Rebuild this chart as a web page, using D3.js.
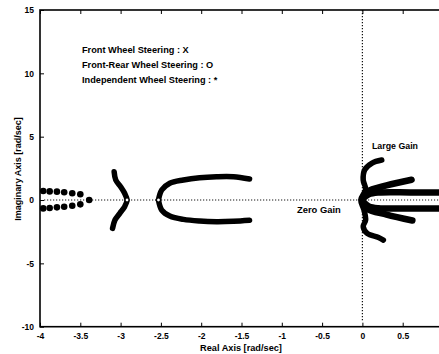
<!DOCTYPE html>
<html>
<head>
<meta charset="utf-8">
<script src="https://cdn.jsdelivr.net/npm/d3@7"></script>
<style>
  body { margin: 0; background: #fff; }
  svg { display: block; font-family: "Liberation Sans", Arial, sans-serif; }
</style>
</head>
<body>
<div id="chart"></div>
<script>
// tick values
const xTicks = [-4, -3.5, -3, -2.5, -2, -1.5, -1, -0.5, 0, 0.5];
const yTicks = [-10, -5, 0, 5, 10, 15];

// independent wheel steering (*) - dots on the left
const iwsX = [-3.96, -3.88, -3.79, -3.70, -3.60, -3.50];
const iwsUpperY = [0.71, 0.68, 0.66, 0.61, 0.53, 0.45];
const iwsLowerY = [-0.66, -0.63, -0.58, -0.53, -0.45, -0.34];
const iwsTip = [[-3.39, 0]];

// front-rear wheel steering (O) - brace shaped branch near -3
const frwsBrace = [
  [-3.08, 2.24], [-3.06, 1.58], [-3.0, 1.05], [-2.95, 0.53], [-2.92, 0],
  [-2.95, -0.53], [-3.01, -1.05], [-3.07, -1.58], [-3.1, -2.24]
];
const openCircles = [[-2.92, 0], [-2.53, 0]];

// parabola branch starting at -2.5
const parabolaUpper = [
  [-2.53, 0], [-2.49, 0.79], [-2.39, 1.32], [-2.22, 1.58], [-2.02, 1.76],
  [-1.81, 1.84], [-1.60, 1.84], [-1.40, 1.66]
];
const parabolaLower = [
  [-2.53, 0], [-2.49, -0.79], [-2.39, -1.26], [-2.22, -1.53], [-2.02, -1.66],
  [-1.81, -1.71], [-1.60, -1.68], [-1.40, -1.6]
];

// branches near the origin
const originWiggle = [
  [0.24, 3.16], [0.12, 2.92], [0.03, 2.4], [0.01, 1.58], [0.04, 0.85],
  [-0.02, 0], [0.02, -0.79], [0.04, -1.58], [0.01, -2.1], [0.06, -2.63],
  [0.2, -2.95], [0.26, -3.16]
];
const armUpperDiag = [[0.0, 0.15], [0.06, 0.65], [0.3, 1.15], [0.61, 1.6]];
const armLowerDiag = [[0.0, -0.15], [0.06, -0.7], [0.3, -1.15], [0.62, -1.62]];
const armUpperFlat = [[0.0, 0.08], [0.08, 0.45], [0.2, 0.59], [0.6, 0.6], [1.0, 0.6]];
const armLowerFlat = [[0.0, -0.08], [0.08, -0.5], [0.2, -0.65], [0.6, -0.66], [1.0, -0.66]];

const legendLines = [
  'Front Wheel Steering : X',
  'Front-Rear Wheel Steering : O',
  'Independent Wheel Steering : *'
];

const W = 439, H = 354;
const margin = { top: 10, left: 40 };
const plotW = 403, plotH = 316.7;

const x = d3.scaleLinear().domain([-4, 1]).range([margin.left, margin.left + plotW]);
const y = d3.scaleLinear().domain([-10, 15]).range([margin.top + plotH, margin.top]);

const svg = d3.select('#chart').append('svg')
  .attr('width', W)
  .attr('height', H);

// dotted reference lines
svg.append('line')
  .attr('x1', x(-3.95)).attr('x2', x(1))
  .attr('y1', y(0)).attr('y2', y(0))
  .attr('stroke', '#111').attr('stroke-width', 1.2)
  .attr('stroke-dasharray', '1.2,1.8');

svg.append('line')
  .attr('x1', x(0)).attr('x2', x(0))
  .attr('y1', y(15)).attr('y2', y(-9.5))
  .attr('stroke', '#111').attr('stroke-width', 1.2)
  .attr('stroke-dasharray', '1.2,1.8');

const line = d3.line()
  .x(d => x(d[0]))
  .y(d => y(d[1]))
  .curve(d3.curveCatmullRom);

const thin = [frwsBrace, parabolaUpper, parabolaLower, originWiggle];
const wide = [armUpperDiag, armLowerDiag, armUpperFlat, armLowerFlat];

svg.append('g')
  .selectAll('path')
  .data(thin)
  .enter()
  .append('path')
  .attr('d', line)
  .attr('fill', 'none')
  .attr('stroke', '#000')
  .attr('stroke-width', 5.5)
  .attr('stroke-linecap', 'round')
  .attr('stroke-linejoin', 'round');

svg.append('g')
  .selectAll('path')
  .data(wide)
  .enter()
  .append('path')
  .attr('d', line)
  .attr('fill', 'none')
  .attr('stroke', '#000')
  .attr('stroke-width', 6.5)
  .attr('stroke-linecap', 'round')
  .attr('stroke-linejoin', 'round');

// the real-axis dots continue between the two flat arms
svg.append('line')
  .attr('x1', x(0.12)).attr('x2', x(1))
  .attr('y1', y(0)).attr('y2', y(0))
  .attr('stroke', '#fff').attr('stroke-width', 1.2)
  .attr('stroke-dasharray', '1.5,1.5');

const dots = iwsX.map((v, i) => [v, iwsUpperY[i]])
  .concat(iwsX.map((v, i) => [v, iwsLowerY[i]]))
  .concat(iwsTip);

svg.append('g')
  .selectAll('circle')
  .data(dots)
  .enter()
  .append('circle')
  .attr('cx', d => x(d[0]))
  .attr('cy', d => y(d[1]))
  .attr('r', 3.3)
  .attr('fill', '#000');

svg.append('g')
  .selectAll('circle')
  .data(openCircles)
  .enter()
  .append('circle')
  .attr('cx', d => x(d[0]))
  .attr('cy', d => y(d[1]))
  .attr('r', 2)
  .attr('fill', '#fff')
  .attr('stroke', '#000')
  .attr('stroke-width', 1.2);

// frame and axes
svg.append('rect')
  .attr('x', margin.left).attr('y', margin.top)
  .attr('width', plotW).attr('height', plotH)
  .attr('fill', 'none')
  .attr('stroke', '#000')
  .attr('stroke-width', 1.6);

const fmt = d => String(d);

svg.append('g')
  .attr('transform', `translate(0, ${margin.top + plotH})`)
  .call(d3.axisBottom(x).tickValues(xTicks).tickFormat(fmt).tickSizeInner(-4).tickSizeOuter(0).tickPadding(6));

svg.append('g')
  .attr('transform', `translate(0, ${margin.top})`)
  .call(d3.axisTop(x).tickValues(xTicks).tickFormat('').tickSizeInner(-4).tickSizeOuter(0));

svg.append('g')
  .attr('transform', `translate(${margin.left}, 0)`)
  .call(d3.axisLeft(y).tickValues(yTicks).tickFormat(fmt).tickSizeInner(-4).tickSizeOuter(0).tickPadding(6));

svg.selectAll('.domain').remove();
svg.selectAll('.tick line').attr('stroke', '#000').attr('stroke-width', 1);
svg.selectAll('.tick text')
  .attr('font-size', '8.5px')
  .attr('font-weight', 'bold')
  .attr('fill', '#000')
  .attr('font-family', '"Liberation Sans", Arial, sans-serif');

// axis labels
svg.append('text')
  .attr('x', 241).attr('y', 351)
  .attr('text-anchor', 'middle')
  .attr('font-size', '9.2px')
  .attr('font-weight', 'bold')
  .text('Real Axis [rad/sec]');

svg.append('text')
  .attr('transform', 'translate(21, 169) rotate(-90)')
  .attr('text-anchor', 'middle')
  .attr('font-size', '9px')
  .attr('font-weight', 'bold')
  .text('Imaginary Axis [rad/sec]');

// legend text
svg.append('g')
  .selectAll('text')
  .data(legendLines)
  .enter()
  .append('text')
  .attr('x', 82)
  .attr('y', (d, i) => 53 + i * 14.8)
  .attr('font-size', '9.2px')
  .attr('font-weight', 'bold')
  .text(d => d);

// annotations
svg.append('text')
  .attr('x', 372).attr('y', 149)
  .attr('font-size', '8.8px')
  .attr('font-weight', 'bold')
  .text('Large Gain');

svg.append('text')
  .attr('x', 297).attr('y', 213)
  .attr('font-size', '9.4px')
  .attr('font-weight', 'bold')
  .text('Zero Gain');
</script>
</body>
</html>
